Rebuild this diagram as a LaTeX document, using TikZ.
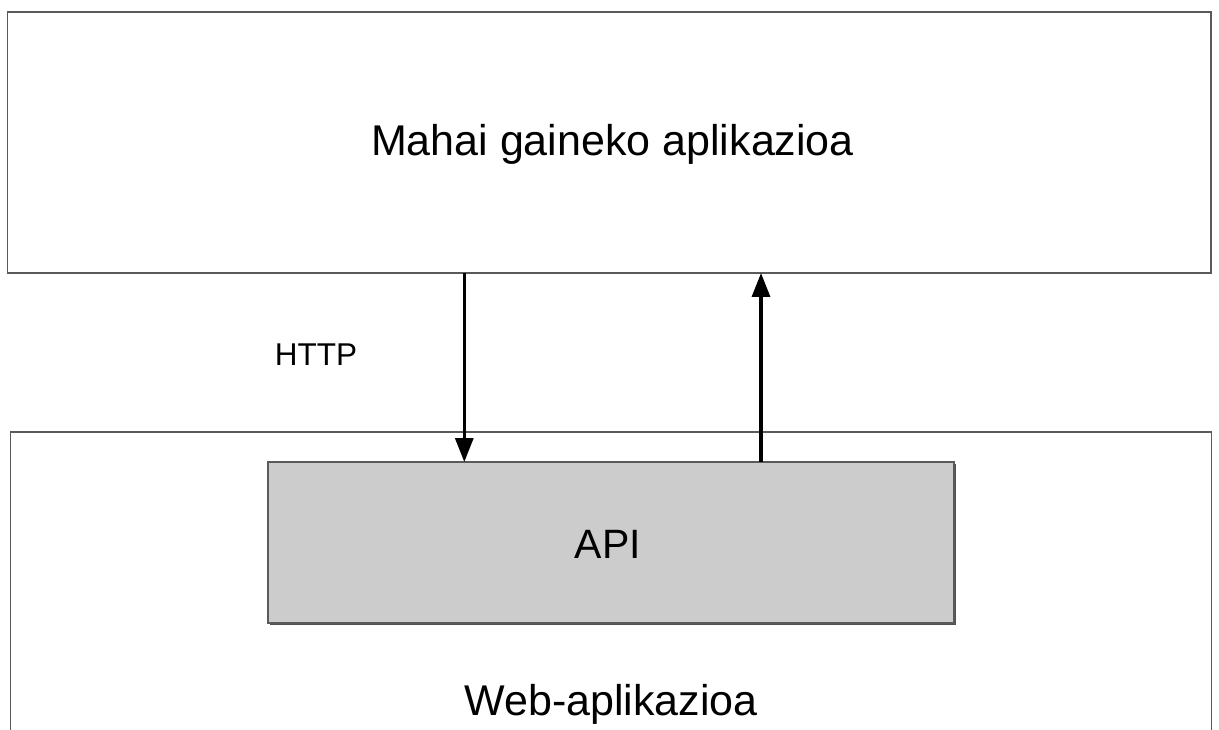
\documentclass[tikz,border=0pt]{standalone}
\usepackage{fontspec}
\setmainfont{Liberation Sans}
\usetikzlibrary{arrows.meta}
\definecolor{edge}{RGB}{90,90,90}
\definecolor{apifill}{RGB}{204,204,204}
\definecolor{apishade}{RGB}{80,80,80}
\tikzset{
  panel/.style={draw=edge, line width=1.6pt, fill=white, inner sep=0pt, outer sep=0pt},
  apibox/.style={draw=edge, line width=1.6pt, fill=apifill, inner sep=0pt, outer sep=0pt},
  biglabel/.style={anchor=base, inner sep=0pt, font=\fontsize{43}{50}\selectfont},
  smalllabel/.style={anchor=base, inner sep=0pt, font=\fontsize{31.5}{36}\selectfont},
  flow/.style={line width=3.2pt, -{Triangle[width=18pt,length=24pt]}}
}
\begin{document}
\begin{tikzpicture}[x=1pt,y=-1pt]
  \clip (0,0) rectangle (1219,730);
  \fill[white] (0,0) rectangle (1219,730);

  % desktop application
  \node[panel, minimum width=1203.5pt, minimum height=261pt] (desk) at (609.25,142.5) {};
  \node[biglabel] (desklbl) at (612.5,155.5) {Mahai gaineko aplikazioa};

  % web application (runs past the lower edge)
  \node[panel, minimum width=1201pt, minimum height=340pt] (web) at (611,602) {};
  \node[biglabel] (weblbl) at (611,715) {Web-aplikazioa};

  % API block with a thin shade on its lower right
  \fill[apishade] (270,464) rectangle (955.8,624.8);
  \node[apibox, minimum width=686pt, minimum height=161pt] (api) at (611,542.5) {};
  \node[biglabel, font=\fontsize{41}{46}\selectfont] (apilbl) at (608,558) {API};

  % request / response connectors
  \coordinate (reqx) at (464.3,0);
  \coordinate (resx) at (761,0);
  \draw[flow] (desk.south -| reqx) -- (api.north -| reqx);
  \draw[flow] (api.north -| resx) -- (desk.south -| resx);

  \node[smalllabel] (http) at (316,365) {HTTP};
\end{tikzpicture}
\end{document}
